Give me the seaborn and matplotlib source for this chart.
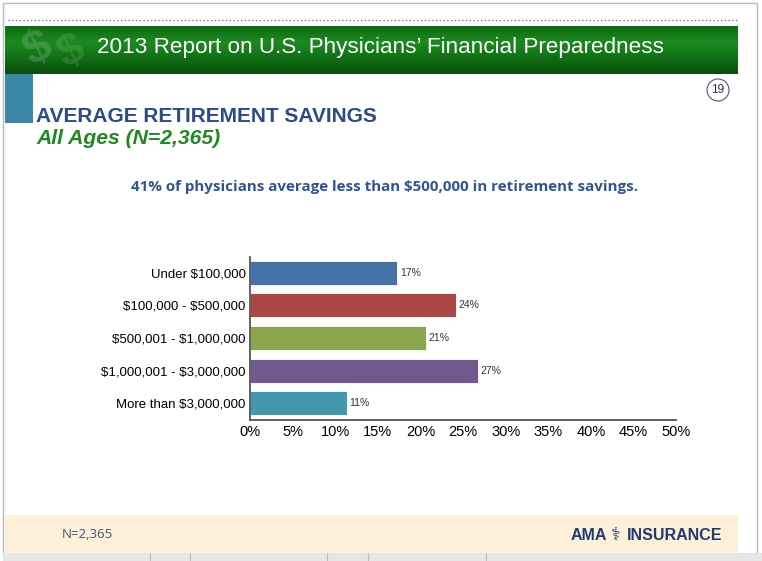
import numpy as np
import pandas as pd
import matplotlib
matplotlib.use("Agg")
import matplotlib.pyplot as plt
from matplotlib.patches import Rectangle, Ellipse
from matplotlib.ticker import MultipleLocator, PercentFormatter
import seaborn as sns

# ── Data ───────────────────────────────────────────────────────────────────────
categories = [
    "Under $100,000",
    "$100,000 - $500,000",
    "$500,001 - $1,000,000",
    "$1,000,001 - $3,000,000",
    "More than $3,000,000",
]
shares = [17.3, 24.2, 20.6, 26.8, 11.4]
share_labels = ["17%", "24%", "21%", "27%", "11%"]
bar_colors = ["#4572A7", "#AA4643", "#89A54E", "#71588F", "#4198AF"]

header_title = "2013 Report on U.S. Physicians\u2019 Financial Preparedness"
slide_title = "AVERAGE RETIREMENT SAVINGS"
slide_subtitle = "All Ages (N=2,365)"
headline = "41% of physicians average less than $500,000 in retirement savings."
footer_n = "N=2,365"
page_no = "19"

df = pd.DataFrame({"category": categories, "share": shares})

W, H = 762, 561
sns.set_theme(style="white")
plt.rcParams["font.family"] = ["Liberation Sans", "DejaVu Sans"]
plt.rcParams["text.parse_math"] = False  # dollar signs are plain text here

fig = plt.figure(figsize=(W / 100, H / 100), dpi=100)
fig.patch.set_facecolor("white")


def fx(x):
    return x / W


def fy(y):
    return 1 - y / H


def rect(x0, y0, x1, y1, **kw):
    fig.patches.append(Rectangle((fx(x0), fy(y1)), fx(x1 - x0), (y1 - y0) / H,
                                 transform=fig.transFigure, **kw))


# ── Slide decoration ───────────────────────────────────────────────────────────
rect(3, 3, 757, 556, facecolor="none", edgecolor="#B8B8B8", lw=1)
fig.add_artist(plt.Line2D([fx(8), fx(738)], [fy(20), fy(20)], transform=fig.transFigure,
                          color="#4A6FA0", lw=0.9, ls=(0, (1, 2))))

# green header band with vertical gradient
ban = fig.add_axes([fx(5), fy(74), fx(733), 48 / H])
grad = np.linspace(0, 1, 64).reshape(-1, 1)
green_cmap = matplotlib.colors.LinearSegmentedColormap.from_list(
    "hdr", ["#0E6A12", "#1C8A20", "#107014", "#0A4E0C"])
ban.imshow(grad, aspect="auto", cmap=green_cmap, extent=[0, 1, 0, 1], origin="upper")
ban.set_xlim(0, 1); ban.set_ylim(0, 1)
ban.axis("off")
# faint dollar-sign watermark
ban.text(0.045, 0.5, "$", fontsize=34, color="white", alpha=0.16, ha="center", va="center",
         rotation=25, fontweight="bold")
ban.text(0.09, 0.45, "$", fontsize=32, color="white", alpha=0.12, ha="center", va="center",
         rotation=25, fontweight="bold")
fig.text(fx(97), fy(48), header_title, color="white", fontsize=16.2, va="center", ha="left")

rect(5, 74, 33, 123, facecolor="#3A88A6", edgecolor="none")
fig.patches.append(Ellipse((fx(718), fy(90)), fx(22), 22 / H, transform=fig.transFigure,
                           facecolor="white", edgecolor="#4A5A80", lw=0.8))
fig.text(fx(718), fy(90), page_no, fontsize=8.5, color="#333333", ha="center", va="center")

fig.text(fx(36), fy(116), slide_title, color="#2B4A8C", fontsize=15, fontweight="bold",
         va="center", ha="left")
fig.text(fx(36), fy(139), slide_subtitle, color="#1E8A1E", fontsize=15.2, fontweight="bold",
         fontstyle="italic", va="center", ha="left")
fig.text(fx(385), fy(187), headline, color="#2F5597", fontsize=10.9, fontweight="bold",
         va="center", ha="center", family=["Open Sans", "DejaVu Sans"])

# footer band
rect(5, 515, 738, 553, facecolor="#FDEFD8", edgecolor="none")
fig.text(fx(62), fy(535), footer_n, color="#3F5577", fontsize=9.5, va="center", ha="left",
         family=["Open Sans", "DejaVu Sans"])
fig.text(fx(607), fy(535), "AMA", color="#1F3B73", fontsize=11.5, fontweight="bold",
         va="center", ha="right")
fig.text(fx(616), fy(535), "\u2695", color="#1F3B73", fontsize=13, va="center", ha="center",
         family=["DejaVu Sans"])
fig.text(fx(722), fy(535), "INSURANCE", color="#1F3B73", fontsize=11.5, fontweight="bold",
         va="center", ha="right")
rect(3, 553, 762, 561, facecolor="#E6E6E6", edgecolor="none")
for xv in [150, 190, 327, 368, 486]:
    fig.add_artist(plt.Line2D([fx(xv), fx(xv)], [fy(553), fy(561)], transform=fig.transFigure,
                              color="#BDBDBD", lw=0.8))

# ── Chart ──────────────────────────────────────────────────────────────────────
ax = fig.add_axes([fx(250), fy(419.5), fx(426), 163 / H])
sns.barplot(data=df, x="share", y="category", hue="category", palette=bar_colors,
            saturation=1, legend=False, width=0.74, ax=ax, edgecolor="white", linewidth=0.6)
for i, (v, lab) in enumerate(zip(shares, share_labels)):
    ax.text(v + 0.3, i, lab, va="center", ha="left", fontsize=7.5, color="#333333")

ax.set_xlim(0, 50)
ax.set_ylim(4.5, -0.5)
ax.xaxis.set_major_locator(MultipleLocator(5))
ax.xaxis.set_major_formatter(PercentFormatter(decimals=0))
ax.set_xlabel("")
ax.set_ylabel("")
ax.tick_params(axis="x", labelsize=10.5, colors="black", length=0, pad=4)
ax.tick_params(axis="y", labelsize=9.5, colors="black", length=0, pad=3)
for s in ["top", "right"]:
    ax.spines[s].set_visible(False)
for s in ["left", "bottom"]:
    ax.spines[s].set_color("#555555")
    ax.spines[s].set_linewidth(1.3)
ax.set_facecolor("none")

fig.savefig("out.png", dpi=100)
